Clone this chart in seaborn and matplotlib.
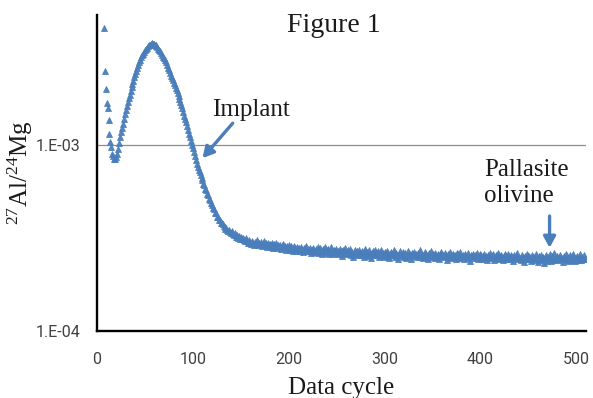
import matplotlib

matplotlib.use("Agg")
import matplotlib.pyplot as plt  # noqa: E402
import numpy as np  # noqa: E402
import seaborn as sns  # noqa: E402
from matplotlib.ticker import NullLocator  # noqa: E402

# 27Al/24Mg ratio per data cycle (units of 1e-6)
FIRST_CYCLE = 7
surface_dip = [4240, 2500, 1990, 1690, 1590, 1370, 1140, 1040, 970, 900, 870, 845, 840]
implant_rise = [
    860, 900, 950, 1020, 1100, 1170, 1230, 1300, 1380, 1470,
    1550, 1620, 1700, 1780, 1860, 1950, 2050, 2130, 2220, 2330,
    2410, 2500, 2610, 2700, 2790, 2880, 2970, 3030, 3100, 3170,
    3230, 3290, 3340, 3390, 3430, 3470, 3500, 3520,
]
implant_fall = [
    3510, 3490, 3470, 3440, 3400, 3360, 3300, 3250, 3190, 3130,
    3060, 2990, 2920, 2850, 2780, 2690, 2610, 2520, 2440, 2360,
    2300, 2230, 2160, 2090, 2030, 1970, 1900, 1830, 1770, 1710,
    1650, 1580, 1510, 1440, 1380, 1330, 1270, 1210, 1150, 1100,
    1050, 1000, 960, 915, 870, 830, 795, 765, 735, 712,
    688, 666, 650, 618, 606, 580, 570, 546, 538, 514,
    507, 485, 478, 457, 453, 433, 431, 412, 410, 394,
    393, 379, 382,
]
olivine_plateau = [
    374, 366, 361, 355, 359, 348, 344, 350, 339, 336,
    343, 331, 327, 335, 322, 329, 318, 325, 314, 320,
    311, 317, 308, 303, 315, 306, 299, 310, 301, 297,
    293, 306, 299, 289, 302, 296, 308, 290, 298, 294,
    300, 287, 295, 303, 289, 296, 284, 299, 290, 294,
    282, 296, 289, 279, 293, 286, 298, 281, 291, 285,
    290, 276, 285, 293, 279, 287, 273, 286, 281, 289,
    274, 285, 278, 270, 287, 276, 281, 268, 283, 275,
    279, 270, 284, 273, 266, 280, 275, 287, 269, 276,
    268, 279, 262, 274, 281, 270, 265, 277, 271, 284,
    263, 273, 279, 267, 260, 276, 270, 282, 264, 271,
    275, 261, 269, 283, 266, 258, 272, 268, 277, 262,
    270, 259, 276, 265, 253, 268, 274, 262, 279, 266,
    258, 271, 264, 277, 256, 267, 249, 263, 272, 260,
    268, 255, 274, 262, 257, 270, 264, 251, 267, 276,
    259, 266, 253, 272, 261, 248, 264, 269, 257, 274,
    262, 255, 268, 251, 260, 271, 256, 263, 249, 266,
    259, 270, 253, 262, 247, 258, 267, 255, 261, 272,
    250, 263, 257, 244, 260, 268, 254, 259, 265, 251,
    262, 248, 257, 270, 253, 259, 245, 264, 256, 261,
    267, 252, 258, 249, 263, 255, 271, 250, 257, 246,
    260, 266, 251, 257, 243, 262, 255, 268, 249, 258,
    253, 247, 264, 256, 250, 261, 244, 258, 266, 252,
    257, 249, 262, 254, 240, 259, 251, 265, 248, 256,
    261, 250, 255, 245, 263, 252, 258, 247, 266, 254,
    249, 257, 243, 260, 253, 248, 264, 251, 238, 256,
    252, 259, 246, 255, 249, 262, 244, 253, 258, 247,
    256, 243, 252, 261, 248, 254, 240, 257, 250, 263,
    246, 253, 258, 242, 251, 256, 247, 262, 244, 252,
    257, 249, 240, 254, 261, 246, 252, 243, 258, 250,
    245, 255, 250, 239, 257, 248, 253, 262, 244, 251,
    247, 241, 256, 250, 236, 253, 245, 259, 249, 243,
    254, 248, 238, 257, 246, 251, 242, 260, 247, 235,
    252, 244, 256, 241, 249, 231, 247, 255, 239, 250,
    243, 258, 246, 237, 252, 241, 262, 248, 244, 254,
    240, 250, 257, 243, 247, 236, 253, 245, 260, 242,
    249, 238, 255, 246, 241, 259, 244, 251, 237, 248,
    253, 242, 247, 258, 240, 250, 245, 255, 243,
]
X_TICKS = [0, 100, 200, 300, 400, 500]
Y_TICKS = [1e-4, 1e-3]
Y_TICK_LABELS = ["1.E-04", "1.E-03"]

ratio = np.array(surface_dip + implant_rise + implant_fall + olivine_plateau) * 1e-6
cycle = np.arange(FIRST_CYCLE, FIRST_CYCLE + len(ratio))

BLUE = "#4A7EBB"
INK = "#1a1a1a"
SERIF = "Liberation Serif"
SANS = "Roboto"

sns.set_theme(style="white")
plt.rcParams["font.family"] = [SERIF, "DejaVu Serif"]
plt.rcParams["mathtext.fontset"] = "custom"
plt.rcParams["mathtext.rm"] = SERIF
plt.rcParams["mathtext.it"] = SERIF + ":italic"

fig = plt.figure(figsize=(5.93, 3.98), dpi=100)
ax = fig.add_axes([0.1636, 0.1683, 0.8246, 0.794])

sns.scatterplot(x=cycle, y=ratio, marker="^", s=18, color=BLUE, edgecolor=BLUE, linewidth=0.6, alpha=0.95, ax=ax, zorder=3)

ax.set_yscale("log")
ax.set_ylim(1e-4, 5e-3)
ax.set_xlim(0, 510)
ax.axhline(1e-3, color="#8c8c8c", lw=0.9, zorder=1)

ax.set_xticks(X_TICKS)
ax.set_xticklabels([str(t) for t in X_TICKS], family=SANS, fontsize=11.5, color="#404040")
ax.set_yticks(Y_TICKS)
ax.set_yticklabels(Y_TICK_LABELS, family=SANS, fontsize=11.5, color="#404040")
ax.yaxis.set_minor_locator(NullLocator())
ax.tick_params(axis="x", direction="in", length=4.5, width=1.5, color="black", pad=15)
ax.tick_params(axis="y", direction="in", length=4, width=1.5, color="black", pad=12)

for sp in ("top", "right"):
    ax.spines[sp].set_visible(False)
for sp in ("left", "bottom"):
    ax.spines[sp].set_color("black")
    ax.spines[sp].set_linewidth(1.7)

ax.set_xlabel("Data cycle", fontsize=18, color=INK)
ax.xaxis.set_label_coords(0.5, -0.147)
ax.set_ylabel("")
fig.text(0.034, 0.567, r"$^{27}$Al/$^{24}$Mg", fontsize=18, rotation=90, ha="center", va="center", color=INK)

fig.text(0.5624, 0.92, "Figure 1", fontsize=20, ha="center", va="baseline", color=INK)

# annotations
arrow = dict(arrowstyle="-|>,head_length=0.55,head_width=0.3", color=BLUE, lw=2.4, shrinkA=0, shrinkB=0)
ax.annotate("", xy=(110, 8.5e-4), xytext=(141.5, 1.31e-3), arrowprops=arrow)
ax.text(160.9, 1.43e-3, "Implant", fontsize=18, ha="center", va="baseline", color=INK)
ax.annotate("", xy=(472, 2.8e-4), xytext=(472, 4.15e-4), arrowprops=arrow)
ax.text(404, 6.85e-4, "Pallasite", fontsize=18, ha="left", va="baseline", color=INK)
ax.text(404, 4.95e-4, "olivine", fontsize=18, ha="left", va="baseline", color=INK)

fig.savefig("out.png", dpi=100)
